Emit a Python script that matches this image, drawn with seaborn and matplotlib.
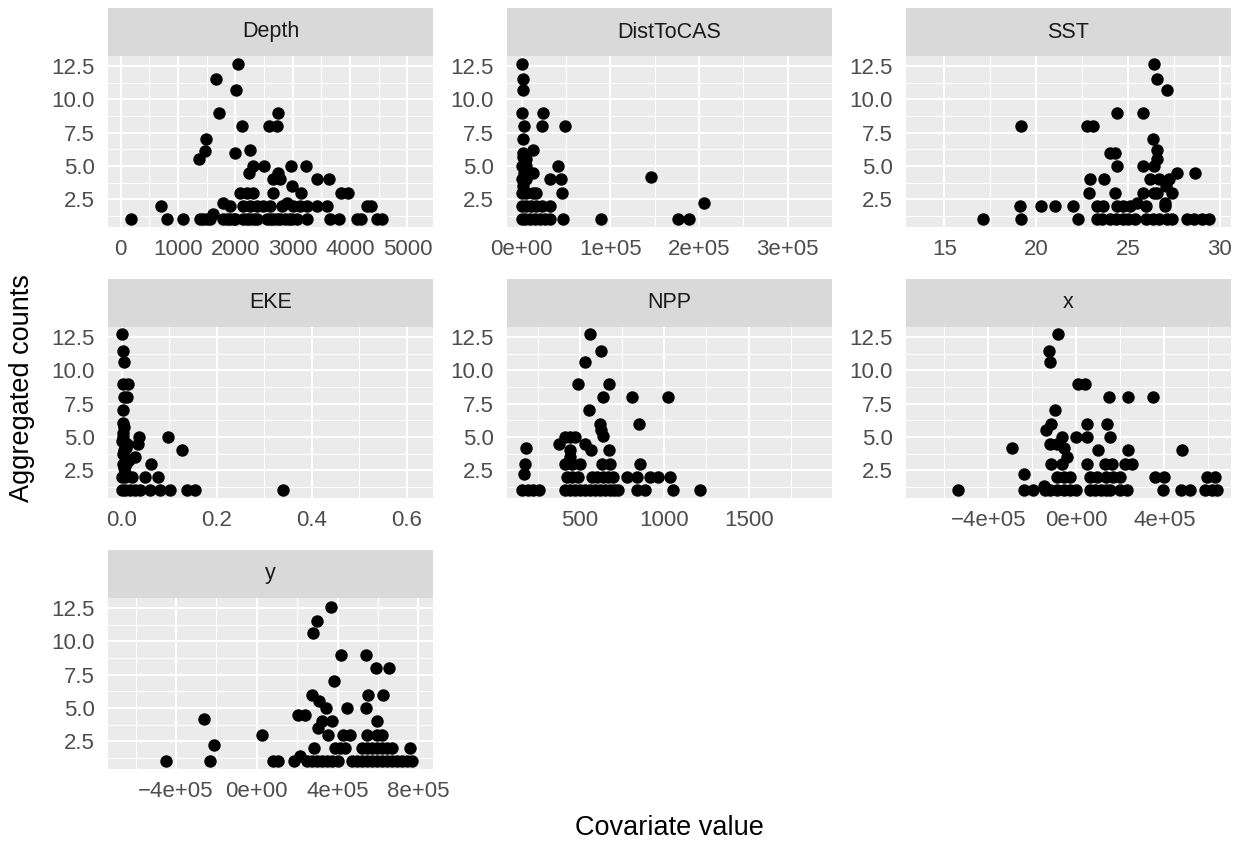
import numpy as np
import pandas as pd
import matplotlib
matplotlib.use("Agg")
import matplotlib.pyplot as plt
import seaborn as sns
from matplotlib.ticker import FixedLocator

# ---------------- data ----------------
covariates = ["Depth", "DistToCAS", "SST", "EKE", "NPP", "x", "y"]

depth_x = [2040, 1660, 2005, 1715, 2740, 2110, 2595, 2720, 1490, 1476, 1372, 1994, 2256,
           2300, 2505, 2965, 3235, 2240, 2740, 2665, 2780, 3430, 3630, 2985,
           2080, 2200, 2300, 2665, 3145, 3840, 3970, 1780, 2900,
           705, 1905, 2140, 2255, 2370, 2490, 2605, 2810, 3010, 3130, 3245, 3420, 3595, 4300, 4370,
           1615,
           175, 800, 1095, 1385, 1440, 1500, 1560, 1790, 1850, 1910, 1970, 2000, 2140, 2200, 2260,
           2330, 2370, 2545, 2605, 2665, 2720, 2780, 2870, 2930, 2990, 3070, 3255, 3650, 3800,
           4115, 4200, 4465, 4550]
depth_y = [12.67, 11.5, 10.67, 9, 9, 8, 8, 8, 7, 6.1, 5.5, 6.0, 6.2,
           5, 5, 5, 5, 4.5, 4.5, 4, 4, 4, 4, 3.5,
           3, 3, 3, 3, 3, 3, 3, 2.25, 2.2,
           2, 2, 2, 2, 2, 2, 2, 2, 2, 2, 2, 2, 2, 2, 2,
           1.4,
           1, 1, 1, 1, 1, 1, 1, 1, 1, 1, 1, 1, 1, 1, 1,
           1, 1, 1, 1, 1, 1, 1, 1, 1, 1, 1, 1, 1, 1,
           1, 1, 1, 1]

dist_x = [700, 1000, 1500, 0, 24400, 2600, 23000, 49500, 2000, 1000, 13000, 1500, 5000,
          0, 5000, 41000, 3000, 13000, 146000, 0, 5000, 32000, 44000, 2000,
          0, 5000, 13000, 16000, 45000, 206000,
          0, 5500, 11000, 16500, 22500, 32000,
          0, 3700, 9400, 15000, 20600, 26000, 32000, 47000, 90000, 177000, 189000]
dist_y = [12.67, 11.5, 10.67, 9, 9, 8, 8, 8, 7, 6, 6.2, 5.7, 5.5,
          5, 5, 5, 4.5, 4.5, 4.2, 4, 4, 4, 4, 3.5,
          3, 3, 3, 3, 3, 2.25,
          2, 2, 2, 2, 2, 2,
          1, 1, 1, 1, 1, 1, 1, 1, 1, 1, 1]

sst_x = [26.41, 26.56, 27.14, 24.38, 25.83, 19.2, 22.75, 23.1, 26.35, 24.0, 24.3, 26.56, 26.56,
         24.38, 25.8, 26.4, 27.65, 28.65, 22.93, 23.7, 26.2, 26.7, 27.2, 27.07,
         22.9, 24.3, 25.8, 26.4, 26.6, 27.4, 25.5, 27.0,
         19.14, 20.25, 21.0, 22.0, 23.3, 23.65, 24.4, 24.75, 25.1, 26.0, 27.0,
         17.12, 19.15, 22.3, 23.3, 23.6, 24.0, 24.35, 24.7, 25.0, 25.4, 26.0, 26.35, 26.7,
         27.1, 27.4, 28.2, 28.6, 29.0, 29.4]
sst_y = [12.67, 11.5, 10.67, 9, 9, 8, 8, 8, 7, 6, 6, 6.2, 5.55,
         5, 5, 5, 4.5, 4.5, 4, 4, 4, 4, 4, 3.5,
         3, 3, 3, 3, 3, 3, 2.25, 2.25,
         2, 2, 2, 2, 2, 2, 2, 2, 2, 2, 2,
         1, 1, 1, 1, 1, 1, 1, 1, 1, 1, 1, 1, 1,
         1, 1, 1, 1, 1, 1]

eke_x = [0.0014, 0.002, 0.005, 0.002, 0.014, 0.004, 0.011, 0.002, 0.002, 0.004, 0.003,
         0.002, 0.037, 0.098, 0.001, 0.011, 0.035, 0.010, 0.004, 0.128, 0.003, 0.028, 0.015,
         0.002, 0.009, 0.061, 0.005, 0.006,
         0.0, 0.007, 0.021, 0.049, 0.077,
         0.0, 0.007, 0.018, 0.028, 0.039, 0.060, 0.081, 0.102, 0.137, 0.154, 0.340]
eke_y = [12.7, 11.45, 10.6, 9, 9, 8, 8, 7, 6.05, 5.75, 5.3,
         5, 5, 5, 4.7, 4.5, 4.5, 4.2, 4, 4, 3.7, 3.5, 3.3,
         3, 3, 3, 2.7, 2.3,
         2, 2, 2, 2, 2,
         1, 1, 1, 1, 1, 1, 1, 1, 1, 1, 1]

npp_x = [559, 623, 530, 486, 673, 633, 807, 1019, 555, 619, 849, 625,
         637, 411, 440, 470, 377, 530, 179, 440, 563, 669, 442,
         173, 411, 450, 500, 630, 679, 857, 167,
         420, 450, 490, 573, 603, 633, 663, 693, 776, 836, 915, 964, 1034,
         157, 190, 220, 253, 411, 440, 470, 500, 530, 559, 589, 619, 649, 679, 700, 727,
         836, 886, 1054, 1212]
npp_y = [12.7, 11.45, 10.6, 9, 9, 8, 8, 8, 7, 6, 5.95, 5.5,
         5.05, 5, 5, 5, 4.5, 4.5, 4.2, 4, 4, 4, 3.5,
         3, 3, 3, 3, 3, 3, 3, 2.2,
         2, 2, 2, 2, 2, 2, 2, 2, 2, 2, 2, 2, 2,
         1, 1, 1, 1, 1, 1, 1, 1, 1, 1, 1, 1, 1, 1, 1, 1,
         1, 1, 1, 1]

xcov_x = [-83000, -124000, -121000, 6000, 41000, 150000, 233000, 350000, -95000,
          -114000, 48000, 139000, -136000, -65000, 0, 48000, 155000, -120000, -88000,
          -292000, -58000, 100000, 233000, 480000, -42000,
          -114000, -65000, 48000, 132000, 162000, 223000, 253000, -239000,
          -88000, -58000, -27000, 64000, 94000, 136000, 167000, 197000, 359000, 397000,
          594000, 632000, -148000,
          -538000, -239000, -197000, -141000, -120000, -88000, -58000, -27000, 0, 64000,
          87000, 110000, 133000, 155000, 200000, 230000, 394000, 477000, 518000, 586000,
          617000, 639000]
xcov_y = [12.7, 11.45, 10.6, 9, 9, 8, 8, 8, 7,
          6, 6, 6, 5.5, 5, 5, 5, 5, 4.5, 4.5,
          4.2, 4.2, 4, 4, 4, 3.5,
          3, 3, 3, 3, 3, 3, 3, 2.25,
          2, 2, 2, 2, 2, 2, 2, 2, 2, 2,
          2, 2, 1.35,
          1, 1, 1, 1, 1, 1, 1, 1, 1, 1,
          1, 1, 1, 1, 1, 1, 1, 1, 1, 1,
          1, 1]

ycov_x = [368000, 297000, 280000, 416000, 541000, 590000, 655000, 384000, 272000, 553000,
          627000, 310000, 343000, 449000, 541000, 202000, 239000, -259000, 321000, 371000,
          594000, 305000,
          25000, 355000, 429000, 462000, 545000, 594000, 619000, -211000,
          285000, 388000, 413000, 437000, 520000, 545000, 570000, 594000, 619000, 643000,
          668000, 759000, 215000,
          -449000, -231000, 79000, 107000, 185000, 248000, 272000, 297000, 322000, 347000,
          371000, 404000, 470000, 495000, 520000, 545000, 570000, 594000, 619000, 643000,
          668000, 693000, 718000, 743000, 767000]
ycov_y = [12.6, 11.5, 10.6, 9, 9, 8, 8, 7, 6, 6,
          6, 5.5, 5, 5, 5, 4.5, 4.5, 4.2, 4, 4,
          4, 3.5,
          3, 3, 3, 3, 3, 3, 3, 2.25,
          2, 2, 2, 2, 2, 2, 2, 2, 2, 2,
          2, 2, 1.4,
          1, 1, 1, 1, 1, 1, 1, 1, 1, 1,
          1, 1, 1, 1, 1, 1, 1, 1, 1, 1,
          1, 1, 1, 1, 1]

x_values = {"Depth": depth_x, "DistToCAS": dist_x, "SST": sst_x, "EKE": eke_x,
            "NPP": npp_x, "x": xcov_x, "y": ycov_x}
y_values = {"Depth": depth_y, "DistToCAS": dist_y, "SST": sst_y, "EKE": eke_y,
            "NPP": npp_y, "x": xcov_y, "y": ycov_y}

x_ticks = {
    "Depth": [0, 1000, 2000, 3000, 4000, 5000],
    "DistToCAS": [0, 100000, 200000, 300000],
    "SST": [15, 20, 25, 30],
    "EKE": [0.0, 0.2, 0.4, 0.6],
    "NPP": [500, 1000, 1500],
    "x": [-400000, 0, 400000],
    "y": [-400000, 0, 400000, 800000],
}
x_tick_labels = {
    "Depth": ["0", "1000", "2000", "3000", "4000", "5000"],
    "DistToCAS": ["0e+00", "1e+05", "2e+05", "3e+05"],
    "SST": ["15", "20", "25", "30"],
    "EKE": ["0.0", "0.2", "0.4", "0.6"],
    "NPP": ["500", "1000", "1500"],
    "x": ["\u22124e+05", "0e+00", "4e+05"],
    "y": ["\u22124e+05", "0e+00", "4e+05", "8e+05"],
}
x_limits = {
    "Depth": (-221, 5447),
    "DistToCAS": (-16500, 350200),
    "SST": (12.92, 30.6),
    "EKE": (-0.0288, 0.6554),
    "NPP": (66, 1995),
    "x": (-774000, 703000),
    "y": (-736800, 872800),
}
y_ticks = [2.5, 5.0, 7.5, 10.0, 12.5]
y_tick_labels = ["2.5", "5.0", "7.5", "10.0", "12.5"]

frames = []
for c in covariates:
    frames.append(pd.DataFrame({"covariate": c, "value": x_values[c], "count": y_values[c]}))
df = pd.concat(frames, ignore_index=True)

# ---------------- style / layout ----------------
sns.set_style("white")
plt.rcParams["font.family"] = ["Liberation Sans", "DejaVu Sans"]

W, H = 1244, 844
fig = plt.figure(figsize=(W / 100, H / 100), dpi=100)

col_left = [108, 507, 906]
panel_w = 325
panel_top = [56, 327, 598]
panel_h = 171
strip_h = 48

def minor_between(ticks, lo, hi):
    if len(ticks) > 1:
        step = ticks[1] - ticks[0]
    else:
        step = 1
    vals = []
    k = np.floor((lo - ticks[0]) / step) - 1
    while True:
        v = ticks[0] + (k + 0.5) * step
        if v > hi:
            break
        if v >= lo:
            vals.append(v)
        k += 1
    return vals

for i, c in enumerate(covariates):
    r, col = divmod(i, 3)
    L = col_left[col]
    T = panel_top[r]
    ax = fig.add_axes([L / W, 1 - (T + panel_h) / H, panel_w / W, panel_h / H])
    sax = fig.add_axes([L / W, 1 - T / H, panel_w / W, strip_h / H])
    sax.set_facecolor("#D9D9D9")
    sax.set_xticks([]); sax.set_yticks([])
    for s in sax.spines.values():
        s.set_visible(False)
    sax.text(0.5, 0.5, c, ha="center", va="center", fontsize=15.5, color="#1A1A1A",
             transform=sax.transAxes)

    ax.set_facecolor("#EBEBEB")
    for s in ax.spines.values():
        s.set_visible(False)
    sub = df[df["covariate"] == c]
    sns.scatterplot(data=sub, x="value", y="count", ax=ax, s=80, color="black",
                    linewidth=0, legend=False, zorder=3)
    xl = x_limits[c]
    ax.set_xlim(*xl)
    ax.set_ylim(0.42, 13.25)
    ax.xaxis.set_major_locator(FixedLocator(x_ticks[c]))
    ax.set_xticklabels(x_tick_labels[c])
    ax.xaxis.set_minor_locator(FixedLocator(minor_between(x_ticks[c], xl[0], xl[1])))
    ax.yaxis.set_major_locator(FixedLocator(y_ticks))
    ax.set_yticklabels(y_tick_labels)
    ax.yaxis.set_minor_locator(FixedLocator(minor_between(y_ticks, 0.42, 13.25)))
    ax.grid(which="major", color="white", linewidth=1.45)
    ax.grid(which="minor", color="white", linewidth=0.72)
    ax.set_axisbelow(True)
    ax.tick_params(which="major", length=4.3, width=1.05, color="#333333",
                   labelcolor="#4D4D4D", labelsize=16)
    ax.tick_params(axis="x", which="major", pad=4.3)
    ax.tick_params(axis="y", which="major", pad=5.2)
    ax.tick_params(which="minor", length=0)
    ax.set_xlabel("")
    ax.set_ylabel("")

fig.text(22 / W, 1 - 388 / H, "Aggregated counts", rotation=90, ha="center", va="center",
         fontsize=19.5, color="black")
fig.text(669 / W, 1 - 835 / H, "Covariate value", ha="center", va="baseline",
         fontsize=19.5, color="black")

fig.savefig("out.png", dpi=100, facecolor="white")
